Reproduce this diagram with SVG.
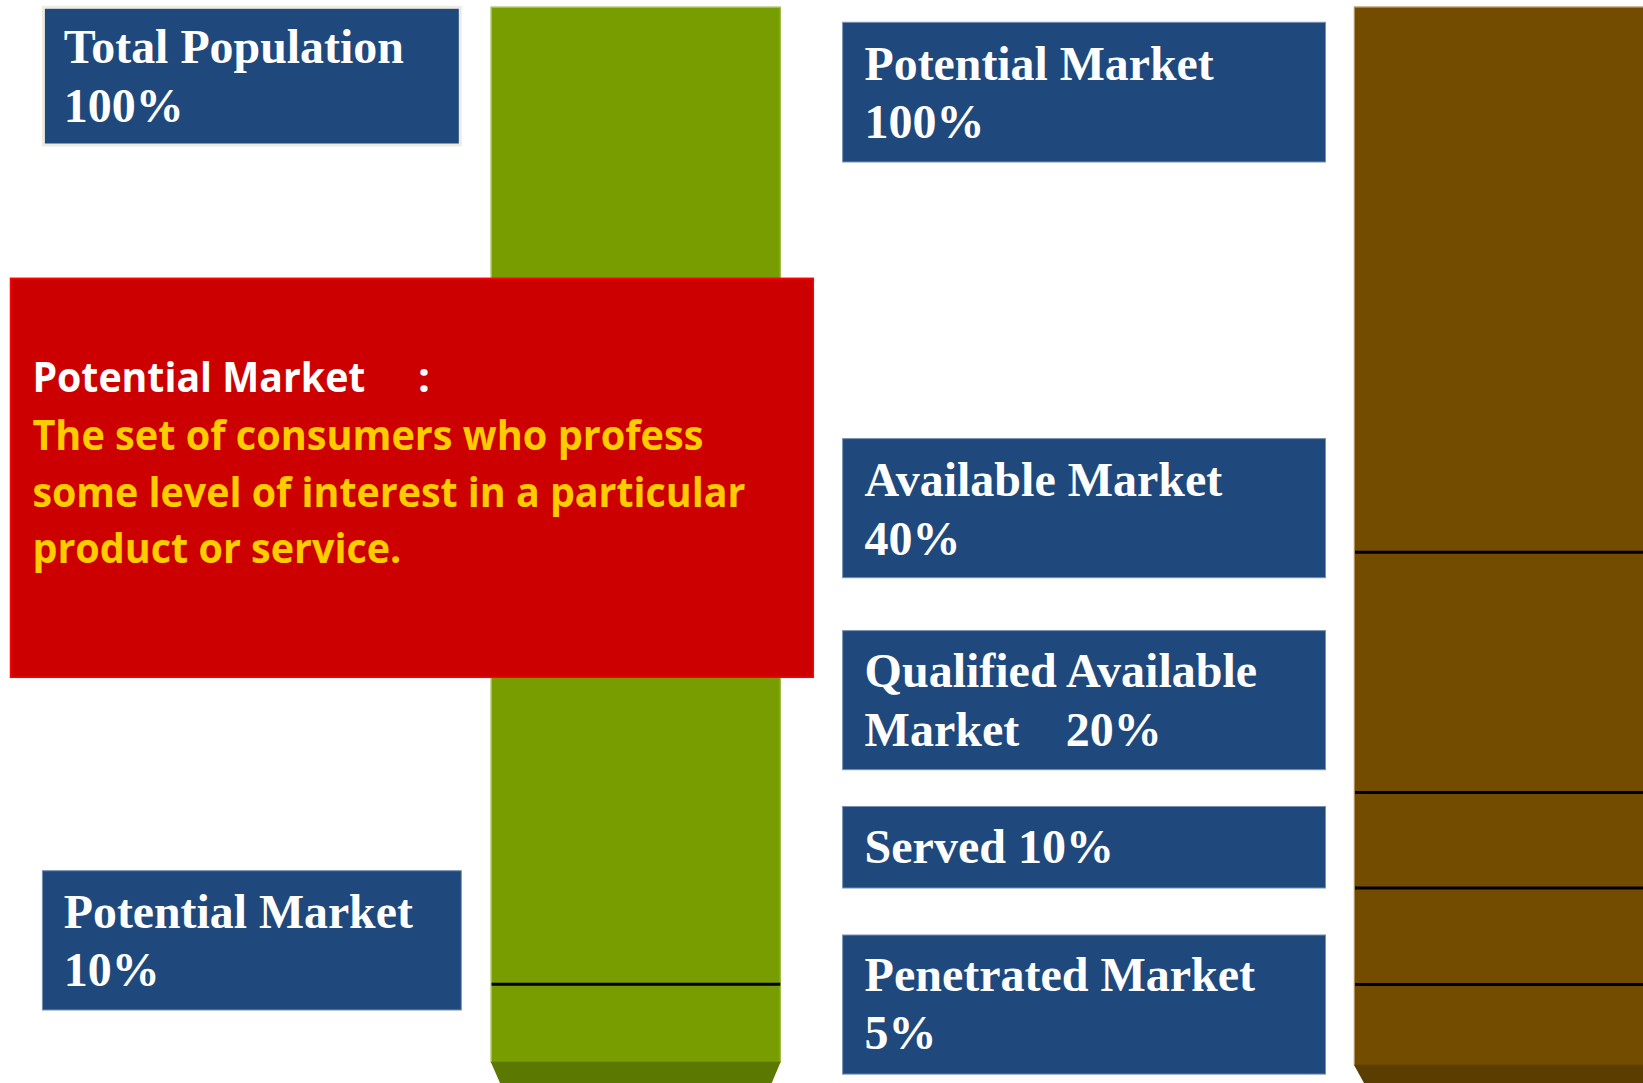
<svg xmlns="http://www.w3.org/2000/svg" width="1643" height="1083" viewBox="0 0 1643 1083">
  <style>
    .box { fill: #1F497D; stroke: #7890B0; stroke-width: 1; }
    .lbl { font-family: "Liberation Serif", "Times New Roman", serif; font-weight: bold; font-size: 48px; fill: #FFFFFF; }
    .def { font-family: "Open Sans", "Noto Sans", sans-serif; font-weight: bold; font-size: 42px; }
    .divider { stroke: #000000; stroke-width: 3; }
  </style>

  <rect width="1643" height="1083" fill="#FFFFFF"/>

  <!-- left column bar -->
  <g id="bar-left">
    <rect x="490.7" y="6.7" width="290" height="1056" fill="#779D00"/>
    <line x1="491.2" y1="6.7" x2="491.2" y2="1062" stroke="#B4CF78" stroke-width="1"/>
    <line x1="780.2" y1="6.7" x2="780.2" y2="1062" stroke="#9CBC4A" stroke-width="1"/>
    <line x1="490.7" y1="7.2" x2="780.7" y2="7.2" stroke="#B4CF78" stroke-width="1"/>
    <polygon points="490.7,1061.7 780.7,1061.7 771.7,1083 500,1083" fill="#5B7800"/>
  </g>

  <!-- right column bar -->
  <g id="bar-right">
    <rect x="1353.9" y="6.7" width="290" height="1058.5" fill="#744C00"/>
    <line x1="1354.4" y1="6.7" x2="1354.4" y2="1065" stroke="#B89A66" stroke-width="1"/>
    <line x1="1353.9" y1="7.2" x2="1643" y2="7.2" stroke="#B89A66" stroke-width="1"/>
    <polygon points="1353.9,1064.8 1643,1064.8 1643,1083 1364,1083" fill="#5C3D00"/>
  </g>

  <!-- divider lines across the bars -->
  <g id="connectors">
    <line class="divider" x1="491.6" y1="984.3" x2="780.3" y2="984.3"/>
    <line class="divider" x1="1355" y1="552.3" x2="1643" y2="552.3"/>
    <line class="divider" x1="1355" y1="792.5" x2="1643" y2="792.5"/>
    <line class="divider" x1="1355" y1="888.1" x2="1643" y2="888.1"/>
    <line class="divider" x1="1355" y1="984.5" x2="1643" y2="984.5"/>
  </g>

  <!-- left column labels -->
  <g id="total-population">
    <rect x="43.4" y="7.3" width="416.9" height="137.7" fill="#1F497D" stroke="#EEECE1" stroke-width="3"/>
    <text class="lbl" x="63.8" y="63.3" textLength="340" lengthAdjust="spacingAndGlyphs">Total Population</text>
    <text class="lbl" x="63.8" y="121.7">100%</text>
  </g>

  <g id="potential-market-10">
    <rect class="box" x="42.4" y="870.7" width="418.9" height="139.3"/>
    <text class="lbl" x="63.8" y="928.3" textLength="349" lengthAdjust="spacingAndGlyphs">Potential Market</text>
    <text class="lbl" x="63.8" y="985.7">10%</text>
  </g>

  <!-- definition callout -->
  <g id="definition">
    <rect x="10.5" y="278.3" width="802.8" height="399" fill="#CC0000" stroke="#FF0000" stroke-width="1.5"/>
    <text class="def" fill="#FFFFFF" x="32.4" y="391.7" textLength="333" lengthAdjust="spacingAndGlyphs">Potential Market</text>
    <text class="def" fill="#FFFFFF" x="418" y="391.7">:</text>
    <text class="def" fill="#FFCC00" x="32.4" y="450" textLength="671" lengthAdjust="spacingAndGlyphs">The set of consumers who profess</text>
    <text class="def" fill="#FFCC00" x="32.4" y="506.7" textLength="713" lengthAdjust="spacingAndGlyphs">some level of interest in a particular</text>
    <text class="def" fill="#FFCC00" x="32.4" y="563.3" textLength="369" lengthAdjust="spacingAndGlyphs">product or service.</text>
  </g>

  <!-- right column labels -->
  <g id="potential-market-100">
    <rect class="box" x="842.6" y="22.3" width="482.9" height="139.7"/>
    <text class="lbl" x="864.6" y="80" textLength="349" lengthAdjust="spacingAndGlyphs">Potential Market</text>
    <text class="lbl" x="864.6" y="138.3">100%</text>
  </g>

  <g id="available-market">
    <rect class="box" x="842.6" y="438.6" width="482.9" height="139.1"/>
    <text class="lbl" x="864.6" y="496.1">Available Market</text>
    <text class="lbl" x="864.6" y="554.5">40%</text>
  </g>

  <g id="qualified-available-market">
    <rect class="box" x="842.6" y="630.6" width="482.9" height="139.1"/>
    <text class="lbl" x="864.6" y="687.2">Qualified Available</text>
    <text class="lbl" x="864.6" y="745.6">Market<tspan x="1065.7">20%</tspan></text>
  </g>

  <g id="served-market">
    <rect class="box" x="842.6" y="806.5" width="482.9" height="81.5"/>
    <text class="lbl" x="864.6" y="863.1">Served 10%</text>
  </g>

  <g id="penetrated-market">
    <rect class="box" x="842.6" y="935" width="482.9" height="139.1"/>
    <text class="lbl" x="864.6" y="990.8">Penetrated Market</text>
    <text class="lbl" x="864.6" y="1049.2">5%</text>
  </g>
</svg>
